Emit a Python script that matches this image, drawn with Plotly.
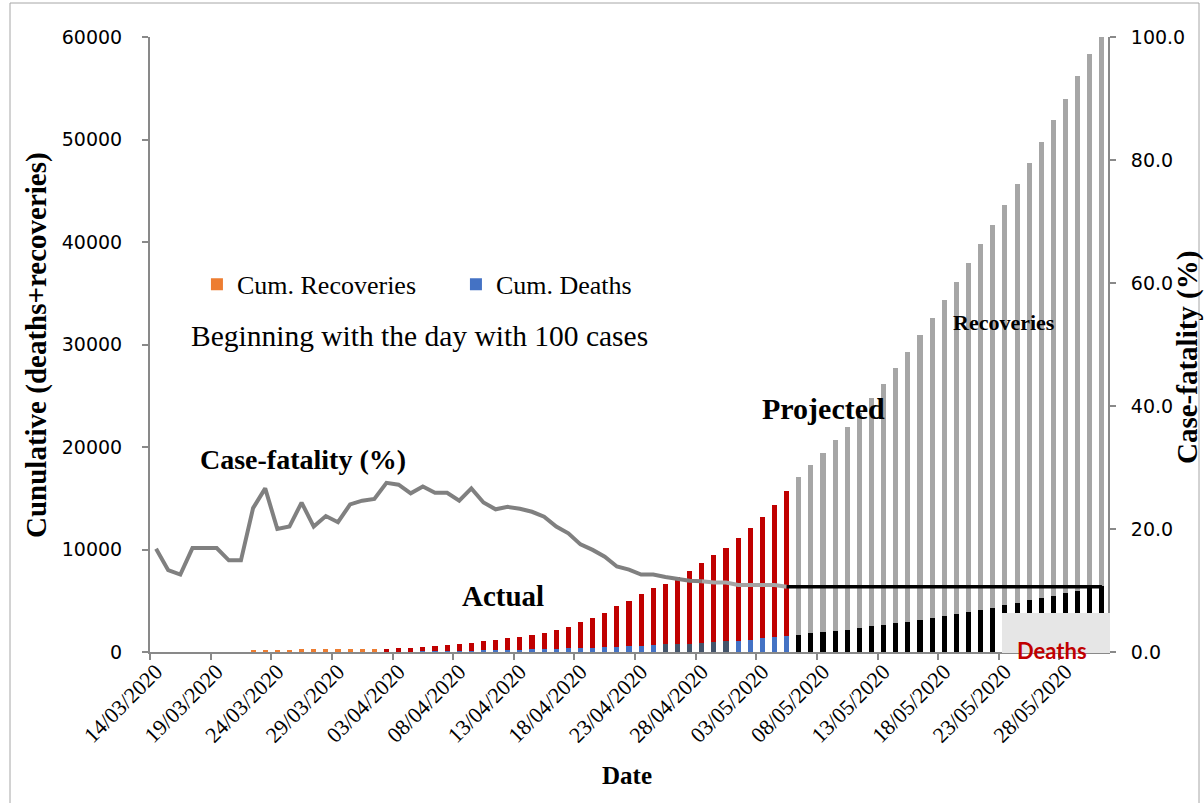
import plotly.graph_objects as go
import pandas as pd

# ---------------- data ----------------
dates = pd.date_range("2020-03-14", "2020-05-31").strftime("%d/%m/%Y").tolist()

tick_labels = ["14/03/2020", "19/03/2020", "24/03/2020", "29/03/2020", "03/04/2020",
               "08/04/2020", "13/04/2020", "18/04/2020", "23/04/2020", "28/04/2020",
               "03/05/2020", "08/05/2020", "13/05/2020", "18/05/2020", "23/05/2020",
               "28/05/2020"]

cum_deaths = [0, 0, 0, 0, 0, 0, 0, 0,
              3, 4, 5, 6, 8, 10, 12, 14, 17, 20, 24,
              28, 35, 45, 55, 70, 90, 110, 130, 150, 170,
              195, 220, 280, 300, 320, 380, 400, 420, 480, 500,
              550, 570, 680, 740, 760, 780, 870, 940, 1030, 1050,
              1170, 1330, 1430, 1530,
              1650, 1830, 1930, 2050, 2150, 2310, 2500, 2640, 2800, 2930,
              3090, 3290, 3480, 3680, 3900, 4070, 4330, 4580, 4810, 5070,
              5300, 5500, 5720, 5980, 6210, 6400]

cum_recoveries = [None, None, None, None, None, None, None, None,
                  227, 231, 235, 234, 237, 235, 238, 236, 238, 235, 236,
                  222, 335, 340, 415, 500, 560, 640, 715, 890, 1030,
                  1185, 1240, 1380, 1520, 1830, 2030, 2530, 2865, 3325, 3955,
                  4390, 5090, 5530, 5895, 6525, 7090, 7780, 8525, 9115, 10070,
                  10925, 11810, 12880, 14145,
                  15450, 16415, 17515, 18635, 19835, 20975, 22245, 23505, 24905, 26340,
                  27835, 29295, 30860, 32415, 34050, 35735, 37330, 39030, 40850, 42605,
                  44455, 46400, 48230, 50215, 52130, 53700]

case_fatality_actual = [16.8, 13.3, 12.6, 16.9, 16.9, 16.9, 14.9, 14.9, 23.4, 26.6,
                        20.0, 20.4, 24.3, 20.4, 22.1, 21.1, 24.0, 24.6, 24.9, 27.5,
                        27.2, 25.8, 26.9, 25.9, 25.9, 24.6, 26.6, 24.3, 23.2, 23.6,
                        23.3, 22.8, 22.0, 20.4, 19.3, 17.5, 16.6, 15.5, 13.9, 13.4,
                        12.6, 12.6, 12.2, 11.9, 11.6, 11.5, 11.3, 11.3, 10.9, 10.9,
                        10.9, 10.9, 10.6]

case_fatality_projected = [10.6] * 27   # from 05/05/2020 to 31/05/2020

n_actual = 53          # 14/03 .. 05/05 observed, then projection
n_orange = 19          # early recoveries drawn in orange
dark_deaths = range(42, 48)
light_line_start = 45

# ---------------- colours per point ----------------
x_idx = list(range(len(dates)))
rec_colors = (["#ED7D31"] * n_orange + ["#C00000"] * (n_actual - n_orange)
              + ["#A6A6A6"] * (len(dates) - n_actual))
death_colors = []
for i in x_idx:
    if i >= n_actual:
        death_colors.append("#000000")
    elif i in dark_deaths:
        death_colors.append("#44546A")
    else:
        death_colors.append("#4472C4")

serif = "Liberation Serif"
sans = "DejaVu Sans"

fig = go.Figure()
fig.add_trace(go.Bar(x=x_idx, y=cum_deaths, name="Cum. Deaths",
                     marker=dict(color=death_colors, line=dict(width=0)),
                     legendrank=2, hoverinfo="skip"))
fig.add_trace(go.Bar(x=x_idx, y=cum_recoveries, name="Cum. Recoveries",
                     marker=dict(color=rec_colors, line=dict(width=0)),
                     legendrank=1, hoverinfo="skip"))

fig.add_trace(go.Scatter(x=x_idx[:light_line_start + 1],
                         y=case_fatality_actual[:light_line_start + 1],
                         mode="lines", yaxis="y2", showlegend=False,
                         line=dict(color="#808080", width=4)))
fig.add_trace(go.Scatter(x=x_idx[light_line_start:n_actual],
                         y=case_fatality_actual[light_line_start:],
                         mode="lines", yaxis="y2", showlegend=False,
                         line=dict(color="#A5A5A5", width=4)))
fig.add_trace(go.Scatter(x=x_idx[n_actual - 1:], y=case_fatality_projected,
                         mode="lines", yaxis="y2", showlegend=False,
                         line=dict(color="#000000", width=3.5)))

tickvals = [dates.index(t) - 0.5 for t in tick_labels]
axis_col = "#898989"

# plot area at screen x 150..1108, y 37..652 (page body margin removed)
fig.update_layout(
    width=1204, height=803,
    margin=dict(l=150, r=96, t=37, b=151),
    paper_bgcolor="white", plot_bgcolor="white",
    barmode="stack", bargap=0.58,
    font=dict(family=serif, color="black"),
    xaxis=dict(range=[-0.5, len(dates) - 0.5], tickmode="array",
               tickvals=tickvals, ticktext=tick_labels, tickangle=-45,
               ticks="outside", ticklen=6, tickwidth=2, tickcolor=axis_col,
               showline=True, linecolor=axis_col, linewidth=2,
               showgrid=False, zeroline=False, ticklabelshift=6,
               ticklabelstandoff=-10,
               tickfont=dict(family=serif, size=22, color="black")),
    yaxis=dict(range=[0, 60000], dtick=10000, tickformat="d", ticks="outside",
               ticklen=6, tickwidth=2, tickcolor=axis_col, showline=True,
               linecolor=axis_col, linewidth=2, showgrid=False, zeroline=False,
               ticklabelstandoff=16,
               tickfont=dict(family=sans, size=19, color="black")),
    yaxis2=dict(range=[0, 100], dtick=20, tickformat=".1f", overlaying="y",
                side="right", ticks="outside", ticklen=6, tickwidth=2,
                tickcolor=axis_col, showline=True, linecolor=axis_col,
                linewidth=2, showgrid=False, zeroline=False,
                ticklabelstandoff=11,
                tickfont=dict(family=sans, size=19, color="black")),
    legend=dict(orientation="h", x=0.049, y=0.598, xanchor="left",
                yanchor="middle", bgcolor="rgba(0,0,0,0)",
                font=dict(family=serif, size=26, color="black"),
                entrywidth=214, entrywidthmode="pixels",
                traceorder="normal"),
)

def px_x(X):
    return (X - 150) / 958.0

def px_y(Y):
    return (652 - Y) / 615.0

annots = [
    dict(text="<b>Case-fatality (%)</b>", x=px_x(303), y=px_y(459), size=28, angle=0),
    dict(text="<b>Actual</b>", x=px_x(503), y=px_y(596), size=29, angle=0),
    dict(text="<b>Projected</b>", x=px_x(823), y=px_y(408), size=30, angle=0),
    dict(text="<b>Recoveries</b>", x=px_x(1004), y=px_y(322), size=22, angle=0),
    dict(text="Beginning with the day with 100 cases", x=px_x(419), y=px_y(336),
         size=29.5, angle=0),
    dict(text="<b>Date</b>", x=px_x(627), y=px_y(775), size=25, angle=0),
    dict(text="<b>Cunulative (deaths+recoveries)</b>", x=px_x(37), y=px_y(345),
         size=29, angle=-90),
    dict(text="<b>Case-fatality (%)</b>", x=px_x(1187), y=px_y(358), size=29,
         angle=-90),
]
for a in annots:
    fig.add_annotation(xref="paper", yref="paper", x=a["x"], y=a["y"],
                       text=a["text"], showarrow=False, xanchor="center",
                       yanchor="middle", textangle=a["angle"],
                       font=dict(family=serif, size=a["size"], color="black"))

# "Deaths" label box
fig.add_shape(type="rect", xref="paper", yref="paper",
              x0=px_x(1002), x1=px_x(1110), y0=px_y(653), y1=px_y(613),
              fillcolor="#E6E6E6", line=dict(width=0), layer="above")
fig.add_annotation(xref="paper", yref="paper", x=px_x(1052), y=px_y(650),
                   xanchor="center", yanchor="middle",
                   text="<b>Deaths</b>", showarrow=False,
                   font=dict(family="Lato", size=22, color="#C00000"))

# chart area border
fig.add_shape(type="rect", xref="paper", yref="paper",
              x0=px_x(10), x1=px_x(1199), y0=px_y(806), y1=px_y(3),
              line=dict(color="#A6A6A6", width=1), fillcolor="rgba(0,0,0,0)",
              layer="below")

fig.write_html("out.html",
               config={"displayModeBar": False},
               post_script="document.body.style.margin='0px';"
                           "document.body.style.overflow='hidden';")
